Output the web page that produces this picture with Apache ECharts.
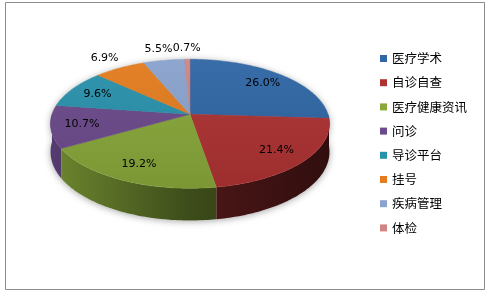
<!DOCTYPE html>
<html><head><meta charset="utf-8">
<script src="https://cdn.jsdelivr.net/npm/echarts@6/dist/echarts.min.js"></script>
<style>html,body{margin:0;padding:0;background:#fff}#c{width:489px;height:294px}</style>
</head><body><div id="c"></div>
<script>
const categories = ['医疗学术','自诊自查','医疗健康资讯','问诊','导诊平台','挂号','疾病管理','体检'];
const values = [26.0, 21.4, 19.2, 10.7, 9.6, 6.9, 5.5, 0.7];
const palette = ['#2f66a6','#ae3232','#88a83a','#6c4a8c','#2892ac','#e47c1e','#8aa3cf','#d08484'];

// 3D-ish geometry (style)
const CX = 190, CY = 114.3, RX = 138, RY = 63.1, D = 6.8, H = 27.5;
const total = values.reduce((a, b) => a + b, 0);
const starts = [];
values.reduce((acc, v, i) => { starts[i] = acc; return acc + v; }, 0);

function proj(u, v) { const s = D / (D - v); return [CX + RX * u * s, CY + RY * v * s, s]; }
function onRim(deg, f) { const r = deg * Math.PI / 180; return proj(f * Math.sin(r), -f * Math.cos(r)); }
function arc(a1, a2) {
  const pts = []; const n = Math.max(2, Math.ceil((a2 - a1) / 1));
  for (let k = 0; k <= n; k++) pts.push(onRim(a1 + (a2 - a1) * k / n, 1));
  return pts;
}
function shade(hex, f) {
  const n = parseInt(hex.slice(1), 16);
  let r = (n >> 16) & 255, g = (n >> 8) & 255, b = n & 255;
  const c = x => Math.max(0, Math.min(255, Math.round(f >= 1 ? x + (255 - x) * (f - 1) : x * f)));
  return 'rgb(' + c(r) + ',' + c(g) + ',' + c(b) + ')';
}

function makeRender(i) {
  return function (params, api) {
    const val = api.value(0);
    const a1 = starts[i] / total * 360, a2 = (starts[i] + val) / total * 360;
    const col = palette[i];
    const children = [];
    if (i === 0) {
      const top = arc(0, 360).map(p => [p[0], p[1]]);
      const bot = arc(90, 270).map(p => [p[0], p[1] + H * p[2]]);
      children.push({ type: 'polygon', z2: 0, shape: { points: top.concat(bot) },
        style: { fill: '#ffffff', shadowBlur: 7, shadowColor: 'rgba(0,0,0,0.35)', shadowOffsetY: 1 } });
    }
    const b1 = Math.max(a1, 90), b2 = Math.min(a2, 270);
    if (b2 > b1) {
      const t = arc(b1, b2);
      const pts = t.map(p => [p[0], p[1]]).concat(t.slice().reverse().map(p => [p[0], p[1] + H * p[2]]));
      children.push({ type: 'polygon', z2: 5, shape: { points: pts },
        style: { fill: new echarts.graphic.LinearGradient(CX - RX, 0, CX + RX, 0, [
          { offset: 0, color: shade(col, 0.8) }, { offset: 0.5, color: shade(col, 0.45) }, { offset: 1, color: shade(col, 0.28) }], true) } });
    }
    const apex = proj(0, 0);
    const tp = [[apex[0], apex[1]]].concat(arc(a1, a2).map(p => [p[0], p[1]]));
    children.push({ type: 'polygon', z2: 20, shape: { points: tp },
      style: { fill: new echarts.graphic.LinearGradient(0, CY - RY, 0, CY + RY * 1.2, [
        { offset: 0, color: shade(col, 1.05) }, { offset: 1, color: shade(col, 0.9) }], true),
        stroke: shade(col, 0.95), lineWidth: 0.5 } });
    const mid = (a1 + a2) / 2;
    const inside = val >= 8;
    const lp = onRim(mid, inside ? 0.78 : 1.25);
    children.push({ type: 'text', z2: 50, x: lp[0], y: lp[1],
      style: { text: val.toFixed(1) + '%', align: 'center', verticalAlign: 'middle',
        fontFamily: 'DejaVu Sans', fontSize: 11, fill: '#000' } });
    return { type: 'group', children: children };
  };
}

const chart = echarts.init(document.getElementById('c'), null, { renderer: 'canvas' });
chart.setOption({
  backgroundColor: '#ffffff',
  animation: false,
  legend: {
    orient: 'vertical', left: 380, top: 51.5, padding: 0, icon: 'rect', itemWidth: 7, itemHeight: 7,
    itemGap: 10.2, selectedMode: false, data: categories,
    textStyle: { fontFamily: 'Noto Sans CJK SC', fontSize: 12.5, color: '#000', lineHeight: 14 }
  },
  graphic: [{ type: 'rect', silent: true, z: 100, shape: { x: 5.5, y: 2.5, width: 479, height: 287 },
    style: { fill: 'none', stroke: '#8c8c8c', lineWidth: 1 } }],
  series: categories.map((name, i) => ({
    type: 'custom', name: name, coordinateSystem: 'none', silent: true,
    itemStyle: { color: palette[i] },
    data: [[values[i]]],
    renderItem: makeRender(i)
  }))
});
</script></body></html>
